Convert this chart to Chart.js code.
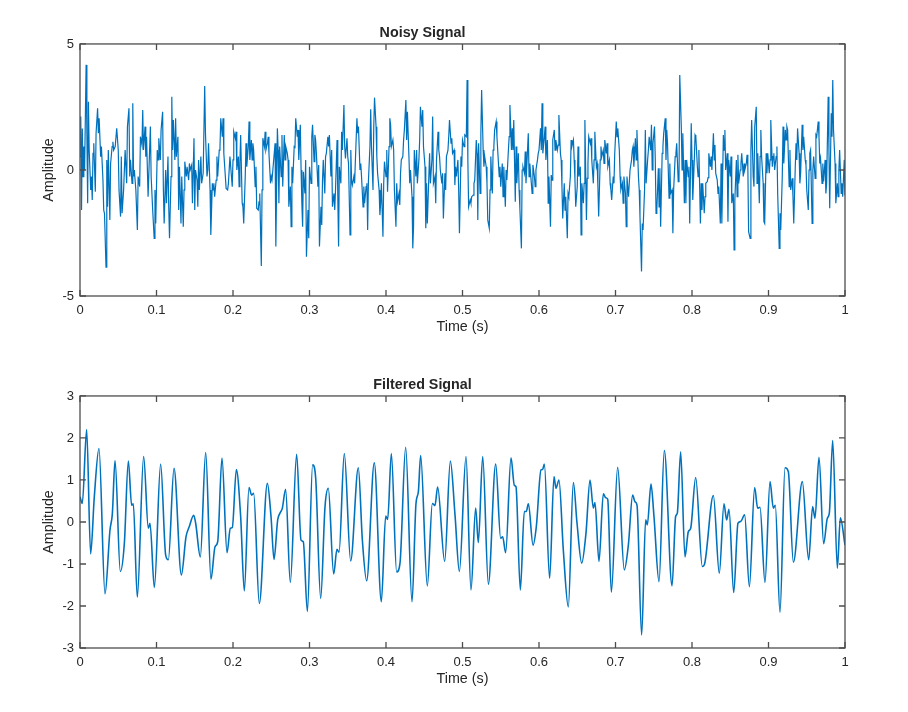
<!DOCTYPE html>
<html>
<head>
<meta charset="utf-8">
<title>Noisy and Filtered Signal</title>
<script src="https://cdn.jsdelivr.net/npm/chart.js@4.4.1/dist/chart.umd.min.js"></script>
<style>
  html, body { margin: 0; padding: 0; background: #ffffff; }
  #wrap { position: relative; width: 908px; height: 712px; }
  canvas { position: absolute; left: 0; }
  #noisyChart { top: 0; }
  #filteredChart { top: 352px; }
</style>
</head>
<body>
<div id="wrap">
  <canvas id="noisyChart" width="908" height="352"></canvas>
  <canvas id="filteredChart" width="908" height="360"></canvas>
</div>
<script>
// Tick values / labels
const timeTicks = [0, 0.1, 0.2, 0.3, 0.4, 0.5, 0.6, 0.7, 0.8, 0.9, 1];
const timeTickLabels = ['0', '0.1', '0.2', '0.3', '0.4', '0.5', '0.6', '0.7', '0.8', '0.9', '1'];
const noisyYTicks = [-5, 0, 5];
const filteredYTicks = [-3, -2, -1, 0, 1, 2, 3];

// Noisy signal, time in milliseconds
const noisyTimeMs = [
  0, 1, 2, 3, 4, 5, 6, 8, 9, 10, 11, 12, 14, 15, 16, 17, 18, 20, 21, 23, 24, 25, 27, 28, 30, 31, 32, 34, 35, 36,
  37, 39, 40, 42, 43, 44, 46, 48, 50, 51, 53, 54, 55, 57, 59, 61, 62, 64, 65, 66, 68, 69, 70, 71, 73, 75, 76, 78, 79, 81,
  82, 83, 85, 86, 87, 89, 91, 92, 93, 95, 97, 98, 99, 101, 102, 103, 105, 106, 108, 109, 110, 112, 113, 115, 116, 117, 119, 120, 121, 122,
  124, 125, 126, 128, 129, 130, 132, 133, 135, 136, 137, 139, 140, 142, 143, 144, 146, 147, 149, 150, 151, 153, 154, 155, 156, 158, 159, 161, 163, 164,
  166, 167, 168, 170, 171, 173, 174, 175, 176, 178, 179, 180, 182, 183, 184, 186, 187, 188, 190, 191, 193, 194, 196, 197, 199, 200, 201, 203, 204, 205,
  207, 208, 209, 210, 212, 213, 214, 216, 217, 218, 220, 221, 222, 224, 225, 226, 227, 229, 230, 231, 233, 234, 235, 237, 238, 239, 241, 242, 243, 245,
  246, 247, 249, 250, 251,
  255, 256, 258, 259, 260, 261, 263, 264, 265, 267, 268, 269, 271, 272, 273, 275, 276, 277, 278, 280, 281, 282, 284, 285, 286, 288, 289, 290, 291, 292,
  294, 295, 296, 298, 299, 300, 302, 303, 304, 306, 307, 308, 309, 311, 312, 313, 315, 316, 317, 318, 320, 321, 322, 324, 325, 326, 328, 329, 330, 332,
  333, 334, 336, 337, 338, 339, 341, 342, 343, 345, 346, 347, 349, 350, 351, 353, 354, 355, 356, 358, 359, 360, 362, 363, 364, 366, 367, 368, 370, 371,
  372, 374, 375, 376, 377, 379, 380, 381, 383, 384, 385, 387, 388, 389, 391, 392, 393, 394, 396, 397, 398, 400, 401, 402, 404, 405, 406, 407, 409, 410,
  411, 413, 414, 415, 417, 418, 419, 420, 422, 423, 424, 426, 427, 428, 430, 431, 432, 434, 435, 436, 437, 439, 440, 441, 443, 444, 445, 447, 448, 449,
  451, 452, 453, 454, 456, 457, 458, 460, 461, 462, 464, 465, 466, 468, 469, 470, 471, 473, 474, 475, 477, 478, 479, 481, 482, 483, 485, 486, 487, 489,
  490, 491, 492, 494, 495, 496, 498, 499, 500, 502,
  503, 505, 506, 507, 508, 510, 511, 512, 514, 515, 516, 518, 519, 520, 521, 523, 524, 525, 527, 528, 529, 531, 532, 533, 535, 536, 537, 539, 540, 541,
  542, 544, 545, 546, 548, 549, 550, 552, 553, 554, 556, 557, 558, 560, 561, 562, 564, 565, 566, 567, 569, 570, 571, 573, 574, 575, 577, 578, 579, 581,
  582, 583, 584, 586, 587, 588, 590, 591, 592, 594, 595, 596, 598, 599, 600, 602, 603, 604, 605, 607, 608, 609, 611, 612, 613, 615, 616, 617, 618, 620,
  621, 622, 624, 625, 626, 628, 629, 630, 631, 633, 634, 635, 637, 638, 639, 641, 642, 643, 645, 646, 647, 648, 650, 651, 652, 654, 655, 656, 658, 659,
  660, 662, 663, 664, 665, 667, 668, 669, 671, 672, 673, 675, 676, 677, 678, 680, 681, 682, 684, 685, 686, 688, 689, 690, 692, 693, 694, 695, 697, 698,
  699, 701, 702, 703, 705, 706, 707, 709, 710, 711, 713, 714, 715, 717, 718, 719, 721, 722, 723, 724, 726, 727, 728, 730, 731, 732, 734, 735, 736, 738,
  739, 740, 742, 743, 744, 746, 747, 748, 749, 751, 752, 753,
  754, 756, 757, 758, 759, 761, 762, 763, 765, 766, 767, 768, 770, 771, 772, 774, 775, 776, 778, 779, 780, 782, 783, 784, 786, 787, 788, 790, 791, 792,
  793, 795, 796, 797, 799, 800, 801, 803, 804, 805, 807, 808, 809, 811, 812, 813, 814, 816, 817, 818, 820, 821, 822, 824, 825, 826, 828, 829, 830, 831,
  833, 834, 835, 837, 838, 839, 841, 842, 843, 844, 846, 847, 848, 850, 851, 852, 854, 855, 856, 858, 859, 860, 861, 863, 864, 865, 867, 868, 869, 871,
  872, 873, 874, 876, 877, 878, 880, 881, 882, 884, 885, 886, 888, 889, 890, 891, 893, 894, 895, 897, 898, 899, 901, 902, 903, 905, 906, 907, 908, 910,
  911, 912, 914, 915, 916, 918, 919, 920, 922, 923, 924, 925, 927, 928, 929, 931, 932, 933, 935, 936, 937, 938, 940, 941, 942, 944, 945, 946, 948, 949,
  950, 952, 953, 954, 955, 957, 958, 959, 961, 962, 963, 965, 966, 967, 968, 970, 971, 972, 974, 975, 976, 978, 979, 980, 982, 983, 984, 985, 987, 988,
  990, 991, 992, 993, 995, 996, 997, 999, 1000
];
const noisyValues = [
  0.53, 2.12, -1.59, 1.65, -0.26, 0.93, 0.0, 4.17, 1.46, -1.32, 2.71, 0.79, -0.79, -0.26, -1.19, 0.66, 1.06, -0.86, 1.46, 2.45, 1.46, 2.05, 0.53, 0.93, -0.4, -1.59, -1.72, -3.86, 0.4, -1.46,
  0.79, -1.98, 0.26, 0.93, 1.12, 0.79, 0.93, 1.65, 0.79, -0.79, -1.85, 0.53, -1.72, -0.79, 0.79, -0.53, 1.72, 2.45, -0.26, 0.4, -0.53, 2.65, -0.26, 0.0, -0.79, -2.38, -0.26, -0.66, 1.32, 0.99,
  2.38, 0.79, 1.72, 0.53, 1.32, -1.06, 0.79, 1.72, -0.26, -1.59, -2.71, -0.79, -2.12, 0.79, 0.4, 1.26, 0.4, 1.59, 2.31, -0.79, -2.12, 0.0, -1.32, 0.53, -1.46, -2.71, -0.26, 2.91, 0.79, 1.98,
  0.4, 2.05, 0.53, 1.32, -1.59, 0.13, -2.12, -0.26, -2.25, -0.79, 0.33, -0.26, 0.13, -0.4, 0.26, 0.0, 0.2, -1.32, 1.26, -1.59, 0.0, -0.4, -1.46, 0.4, -0.79, 0.53, -0.53, -0.13, 3.33, 1.46,
  -0.26, 0.0, 1.06, -0.79, -2.58, -0.53, -0.79, -0.53, -1.06, -0.4, 0.53, -0.26, 0.79, 0.93, 2.05, 1.32, 2.05, 0.66, -0.26, -0.73, -0.79, -0.53, 0.53, 0.13, -0.66, 0.4, 1.52, 1.26, 1.52, 0.0,
  0.53, -0.66, 0.26, 1.39, -1.32, -1.46, -2.12, -0.26, 1.06, 0.13, 0.93, 1.92, 0.4, 1.19, 0.4, 1.06, 0.79, -0.66, 0.13, -1.52, -1.59, -1.26, -0.93, -3.81, -0.79, 1.26, 0.93, 1.52, 0.79, 1.06,
  1.32, 0.66, -0.53, -0.26, -0.4,
  1.06, -3.04, 1.65, 0.79, -1.32, 0.93, -0.26, 1.39, -0.66, 1.39, 0.4, 0.93, 0.66, 0.4, -1.46, -0.66, -2.25, 0.13, -0.53, 0.93, 0.9, 2.05, 1.32, 1.59, 0.4, 1.79, 0.0, -1.32, -2.25, -0.07,
  -0.93, 0.4, -3.44, -1.59, -2.71, 0.13, -0.53, 1.32, 1.79, 0.33, 1.39, 1.19, 0.66, -0.66, 0.2, -3.04, -1.46, -2.18, -0.4, 0.4, -0.93, 0.53, 0.66, 1.32, 0.93, 1.39, -0.26, 0.79, -1.46, -0.93,
  -1.59, -0.79, 1.19, -1.06, -3.04, 0.13, -0.53, 1.52, 0.79, 2.58, 0.93, 0.46, 1.26, 0.53, 0.26, -2.58, 0.79, -0.4, -0.6, -0.26, -0.53, 0.4, 2.05, 1.46, 1.72, 0.0, 0.26, -0.26, -1.46, -0.66,
  -1.32, -0.66, -0.53, -2.38, -0.46, 0.93, 2.41, 0.93, -0.79, 1.72, 2.87, 1.72, 0.53, -0.13, -0.79, -1.79, -1.32, -0.53, -2.65, -0.53, 0.33, -0.26, 0.79, -0.86, 0.93, 2.05, 1.79, 0.93, 1.19, 0.79,
  -0.79, -2.25, -0.53, -1.26, -0.93, -1.39, -0.13, 0.4, 0.53, 1.19, 1.59, 2.78, 1.19, 2.31, 0.53, -0.53, 0.0, -1.06, -3.11, -2.25, 0.79, -0.26, 0.79, -0.53, 0.4, 1.19, 2.51, 1.72, 2.38, 0.93,
  0.13, -2.31, -0.53, -2.12, -0.26, 0.66, -0.53, 0.4, 2.12, -0.53, -0.26, -1.32, 0.4, 1.52, 0.79, 0.53, 0.0, -0.53, -0.13, -1.92, -0.13, -0.79, 0.53, 0.79, 1.32, 1.98, 1.06, 1.26, 0.66, 0.79,
  -0.6, 0.13, -0.26, 0.4, -0.79, -2.51, 0.53, 0.13, 1.19, 0.93,
  1.39, 1.32, 3.57, 0.4, -1.46, -1.19, -1.32, -1.06, -1.0, -0.53, -0.4, 1.19, 0.66, -1.98, 1.06, -0.93, 1.46, 3.17, 0.79, 0.13, 0.53, 0.13, -0.53, -1.98, -2.31, -0.79, 0.53, -0.93, 0.79, 0.93,
  1.59, 1.92, 1.32, 0.79, -0.26, 0.13, -0.66, 0.26, -1.06, 0.13, -1.46, 0.0, -0.4, 0.79, 1.32, 2.58, 0.79, 1.65, 0.79, 1.98, -1.26, 0.93, -0.53, 0.66, -0.79, -1.52, -3.11, 0.0, 0.13, -0.13,
  0.73, -0.53, 0.13, 1.46, -0.26, 0.26, -0.53, -0.93, 0.2, -0.26, -0.66, 0.0, 0.4, 0.66, 0.79, 1.65, 0.79, 2.65, 0.66, 1.32, 1.72, 0.4, 1.19, -1.32, -0.26, -2.25, -0.2, -0.4, 1.19, 1.59,
  0.79, 1.19, 0.79, 0.99, 2.18, 0.66, 0.4, -0.66, -1.92, -0.53, -1.59, -1.06, -2.71, -0.93, -1.06, -0.26, 1.19, 0.93, 1.19, 0.4, -0.4, -1.46, -0.66, 0.93, -0.26, 0.13, -2.58, -0.53, -1.32, -0.53,
  1.98, -1.98, -0.33, 0.26, 1.32, 1.06, 1.26, 0.4, -0.53, 0.4, 1.52, 0.13, 0.26, -0.66, -1.85, 0.4, 0.93, 0.53, 0.79, 0.26, 1.19, 0.66, 1.06, 0.13, 0.4, -0.53, -0.79, -1.19, -0.26, -0.53,
  0.66, 1.92, 1.32, 1.65, 0.79, -0.26, -0.79, -0.53, -1.32, -0.26, -0.93, -2.25, -0.26, -1.06, -0.53, 0.0, 0.4, 0.79, 0.93, 0.13, 1.26, 0.4, 1.59, -0.26, -0.79, -1.85, -4.03, -2.12, -2.38, -0.79,
  1.59, -0.53, 0.4, 0.79, 1.32, 0.79, 1.79, 0.0, 1.06, 1.72, 0.4, -1.72,
  -1.59, 0.07, -1.46, 0.07, -2.25, 0.66, 0.93, 1.46, 2.05, 0.4, 1.59, 1.06, -1.12, 0.26, -0.93, -0.79, -2.51, -0.79, 0.53, 0.66, 1.06, -0.46, -0.4, 3.77, 1.72, 0.0, 1.46, -1.32, 0.4, -1.32,
  0.4, -0.26, 0.13, -2.12, 1.85, 0.4, -1.19, 0.4, 1.39, 1.32, 0.13, -0.26, 0.79, -2.12, -0.53, -1.59, -0.53, -1.72, -1.06, -0.53, -0.46, -0.3, 0.66, 0.13, 0.53, 0.0, 1.46, 0.4, 0.99, -0.13,
  -0.4, -0.93, -0.66, -2.12, 0.26, -2.12, 1.39, 0.79, 1.59, 0.0, 0.66, -2.05, 0.4, -0.26, 0.53, -1.32, -0.93, -3.17, -1.19, 0.4, -1.06, 0.6, -0.53, 0.0, 0.26, 0.66, -0.26, 0.26, 0.0, 0.26,
  0.6, 0.13, -2.45, -2.71, 0.79, 1.98, -0.26, -0.66, 1.72, 2.51, -0.53, 0.66, -1.32, 0.53, 1.59, 0.53, -0.53, -2.05, -2.12, 0.66, -0.13, 0.66, -0.13, 0.4, 1.98, 0.13, 0.53, 0.66, 0.0, 0.53,
  0.93, -0.93, -3.11, -1.72, -2.38, -0.26, 1.72, 0.26, 1.59, 1.19, 1.72, 1.59, -0.66, 0.79, -0.79, -0.33, -1.06, -2.12, 0.13, 1.06, 0.4, 1.65, 0.66, -0.53, -0.13, 1.79, 0.79, 1.32, 0.4, 0.2,
  -0.79, -1.59, 0.0, 0.66, 0.79, -2.12, 0.0, 0.53, -0.33, 1.39, 1.32, 1.92, 1.32, 0.26, 0.46, -0.53, 0.26, -0.46, 0.4, -0.93, -0.53, 2.91, 0.79, -1.52, 2.25, 1.32, 3.57, 1.59, 0.26, -1.32,
  -0.53, -1.06, 0.0, 0.79, -0.93, -0.53, -1.06, 0.4, -1.0
];

// Filtered signal, time in seconds
const filteredTime = [
  0, 0.003, 0.0087, 0.0139, 0.0187, 0.0248, 0.0327, 0.0392, 0.0423, 0.0458, 0.0527, 0.058, 0.0632, 0.0675, 0.0697, 0.0749, 0.0832, 0.0893, 0.0915, 0.0972,
  0.1054, 0.112, 0.1155, 0.1229, 0.1325, 0.1386, 0.1429, 0.1486, 0.1512, 0.1573, 0.1643, 0.1712, 0.1765, 0.18, 0.1856, 0.1922, 0.1965, 0.1991,
  0.2044, 0.21, 0.2148, 0.2209, 0.2244, 0.227, 0.2344, 0.2449, 0.2497, 0.2536, 0.2584, 0.2614, 0.2645, 0.2688, 0.2749, 0.2832, 0.2889, 0.2919, 0.2972,
  0.3041, 0.3081, 0.3146, 0.3203, 0.3246, 0.3316, 0.3359, 0.3386, 0.3455, 0.3538, 0.3638, 0.3691, 0.3747, 0.3847, 0.3939, 0.3996,
  0.4022, 0.407, 0.4139, 0.4183, 0.4257, 0.434, 0.4392, 0.4423, 0.4453, 0.454, 0.4606, 0.464, 0.4675, 0.4767, 0.4841, 0.4902, 0.4959,
  0.5046, 0.5111, 0.5172, 0.5207, 0.5264, 0.5338, 0.5434, 0.5499, 0.5525, 0.5564, 0.5634, 0.5678, 0.5699, 0.5756, 0.5808, 0.5834, 0.5861, 0.5922, 0.5965,
  0.6026, 0.6048, 0.607, 0.6139, 0.6196, 0.6222, 0.6261, 0.6318, 0.6383, 0.6449, 0.6497, 0.6558, 0.6614, 0.6667, 0.671, 0.6732, 0.6784, 0.6841, 0.6871, 0.6898, 0.6946,
  0.7028, 0.7115, 0.7168, 0.7224, 0.7255, 0.7281, 0.7342, 0.7394, 0.7416, 0.7464, 0.7503, 0.7569, 0.7638, 0.7739, 0.7786, 0.7808, 0.7852, 0.7908, 0.7952, 0.7983,
  0.8048, 0.8135, 0.8161, 0.8279, 0.8357, 0.8418, 0.8453, 0.8484, 0.8545, 0.8601, 0.8636, 0.8688, 0.875, 0.8819, 0.8858, 0.8889, 0.8954,
  0.902, 0.9063, 0.9089, 0.915, 0.9216, 0.9259, 0.9325, 0.9442, 0.9525, 0.9577, 0.9608, 0.966, 0.9721, 0.9769, 0.9795, 0.9839, 0.99, 0.9939, 1.0
];
const filteredValues = [
  0.6, 0.44, 2.2, -0.76, 0.6, 1.75, -1.71, -0.19, 0.2, 1.46, -1.18, -0.5, 1.45, 0.4, 0.43, -1.79, 1.56, -0.15, -0.03, -1.56,
  1.38, -0.79, -0.9, 1.28, -1.26, -0.35, -0.11, 0.16, -0.03, -0.83, 1.65, -1.36, -0.59, -0.47, 1.52, -0.73, -0.15, -0.13,
  1.25, 0.13, -1.64, 0.82, 0.64, 0.68, -1.94, 0.92, 0.13, -0.89, 0.05, 0.21, 0.33, 0.78, -1.44, 1.61, -0.43, -0.47, -2.13,
  1.36, 1.04, -1.82, 0.37, 0.8, -1.24, -0.65, -0.72, 1.63, -0.93, 1.29, -0.43, -1.4, 1.41, -1.9, 0.14,
  0.06, 1.63, -1.19, -0.98, 1.78, -1.9, 0.44, 0.72, 1.58, -1.52, 0.44, 0.39, 0.83, -0.94, 1.45, 0.17, -1.18,
  1.56, -1.62, 0.33, -0.49, 1.56, -1.48, 1.38, -0.39, -0.35, -0.73, 1.53, 0.87, 0.84, -1.62, 0.25, 0.25, 0.43, -0.55, -0.11,
  1.24, 1.25, 1.38, -1.34, 1.08, 0.8, 1.0, -0.67, -2.02, 0.94, -0.03, -0.98, -0.27, 1.0, 0.33, 0.46, -0.94, 0.67, 0.58, 0.54, -1.67,
  1.3, -1.14, -0.55, 0.64, 0.48, 0.4, -2.69, 0.05, -0.07, 0.9, 0.13, -1.42, 1.7, -1.52, 0.13, 0.21, 1.67, -0.83, -0.23, -0.15,
  1.06, -1.06, -1.02, 0.63, -1.22, 0.43, 0.05, 0.3, -1.68, -0.03, 0.01, 0.17, -1.54, 0.82, 0.33, 0.35, -1.44,
  0.96, 0.33, 0.4, -2.15, 1.29, 1.2, -0.96, 0.96, -0.9, 0.37, 0.09, 1.54, -0.52, 0.09, 0.21, 1.94, -1.1, 0.1, -0.55
];

const lineColor = '#0072BD';
const axisColor = '#4d4d4d';
const textColor = '#262626';
const fontFamily = '"Liberation Sans", Arial, Helvetica, sans-serif';

// MATLAB style box with inward ticks
const axesBox = {
  id: 'axesBox',
  afterDraw(chart) {
    const { ctx, chartArea: a, scales: { x, y } } = chart;
    ctx.save();
    ctx.strokeStyle = axisColor;
    ctx.lineWidth = 1.3;
    ctx.strokeRect(a.left, a.top, a.right - a.left, a.bottom - a.top);
    ctx.beginPath();
    x.ticks.forEach(t => {
      const px = x.getPixelForValue(t.value);
      ctx.moveTo(px, a.bottom); ctx.lineTo(px, a.bottom - 6);
      ctx.moveTo(px, a.top); ctx.lineTo(px, a.top + 6);
    });
    y.ticks.forEach(t => {
      const py = y.getPixelForValue(t.value);
      ctx.moveTo(a.left, py); ctx.lineTo(a.left + 6, py);
      ctx.moveTo(a.right, py); ctx.lineTo(a.right - 6, py);
    });
    ctx.stroke();
    ctx.restore();
  }
};

function makeChart(canvasId, titleText, times, values, yTicks, smooth, bottomPad, lineWidth) {
  const points = times.map((t, i) => ({ x: t, y: values[i] }));
  return new Chart(document.getElementById(canvasId), {
    type: 'line',
    data: {
      datasets: [{
        data: points,
        borderColor: lineColor,
        borderWidth: lineWidth,
        pointRadius: 0,
        fill: false,
        tension: 0,
        cubicInterpolationMode: smooth ? 'monotone' : 'default'
      }]
    },
    options: {
      responsive: false,
      animation: false,
      devicePixelRatio: 1,
      layout: { padding: { left: 0, right: 63, top: 0, bottom: bottomPad } },
      plugins: {
        legend: { display: false },
        tooltip: { enabled: false },
        title: {
          display: true,
          text: titleText,
          color: textColor,
          font: { family: fontFamily, size: 14.3, weight: 'bold' },
          padding: { top: 24.5, bottom: 2.3 }
        }
      },
      scales: {
        x: {
          type: 'linear',
          min: 0,
          max: 1,
          afterBuildTicks: s => { s.ticks = timeTicks.map(v => ({ value: v })); },
          afterFit: s => { s.height = 40; },
          grid: { display: false, drawTicks: false },
          border: { display: false },
          ticks: {
            color: textColor,
            font: { family: fontFamily, size: 13 },
            padding: 7,
            maxRotation: 0,
            callback: (v, i) => timeTickLabels[i]
          },
          title: {
            display: true,
            text: 'Time (s)',
            color: textColor,
            font: { family: fontFamily, size: 14.3 },
            padding: 0
          }
        },
        y: {
          type: 'linear',
          min: yTicks[0],
          max: yTicks[yTicks.length - 1],
          afterBuildTicks: s => { s.ticks = yTicks.map(v => ({ value: v })); },
          afterFit: s => { s.width = 80; },
          grid: { display: false, drawTicks: false },
          border: { display: false },
          ticks: {
            color: textColor,
            font: { family: fontFamily, size: 13 },
            padding: 6,
            callback: v => String(v)
          },
          title: {
            display: true,
            text: 'Amplitude',
            color: textColor,
            font: { family: fontFamily, size: 14.3 },
            padding: { top: 40.4, bottom: 0 }
          }
        }
      }
    },
    plugins: [axesBox]
  });
}

makeChart('noisyChart', 'Noisy Signal', noisyTimeMs.map(t => t / 1000), noisyValues, noisyYTicks, false, 16, 1.2);
makeChart('filteredChart', 'Filtered Signal', filteredTime, filteredValues, filteredYTicks, true, 24, 1.6);
</script>
</body>
</html>
